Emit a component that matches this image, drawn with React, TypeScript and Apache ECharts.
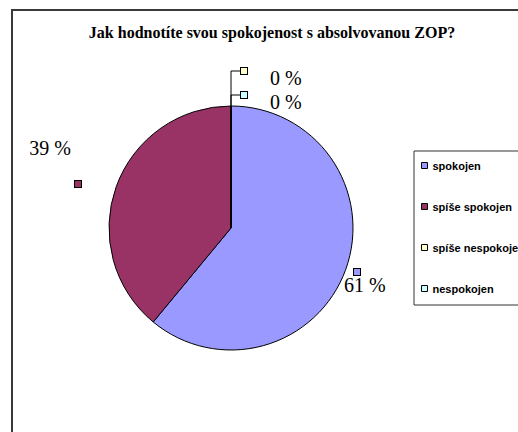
import React, { useEffect, useRef } from 'react';
import * as echarts from 'echarts';

const chartTitle = 'Jak hodnotíte svou spokojenost s absolvovanou ZOP?';
const categories = ['spokojen', 'spíše spokojen', 'spíše nespokoje', 'nespokojen'];
const values = [61, 39, 0, 0];
const colors = ['#9999FF', '#993366', '#FFFFCC', '#CCFFFF'];
// leader heights above the pie top for the zero-value labels
const leaderLengths = [0, 0, 35, 11];

const serif = '"Liberation Serif", "Times New Roman", serif';
const sans = '"Liberation Sans", Arial, sans-serif';

const CX = 231;
const CY = 228;
const R = 122;

export default function App() {
  const ref = useRef<HTMLDivElement>(null);

  useEffect(() => {
    const chart = echarts.init(ref.current!, null, { renderer: 'svg' });

    const rich: any = {
      tz: { fontFamily: serif, fontSize: 20, lineHeight: 8, padding: [14, 0, 0, 23], color: '#000' },
      tn: { fontFamily: serif, fontSize: 20, lineHeight: 20, color: '#000' },
      s1: { width: 10, height: 6 },
      s2: { width: 10, height: 6 },
      g: { width: 1, height: 29 },
    };
    colors.forEach((c, i) => {
      rich['m' + i] = { width: 6, height: 6, backgroundColor: c, borderColor: '#000', borderWidth: 1 };
      rich['b' + i] = { width: 6, height: 6, backgroundColor: c, borderColor: '#000', borderWidth: 1, verticalAlign: 'bottom' };
    });

    const data = values.map((v, i) => {
      const txt = `${v} %`;
      let formatter: string;
      if (v === 0) formatter = `{m${i}|}{tz|${txt}}`;
      else if (i === 0) formatter = `{s1|}{m${i}|}\n{tn|${txt}}`;
      else formatter = `{tn|${txt}}{s2|}\n{g|}{b${i}|}`;
      return {
        name: categories[i],
        value: v,
        itemStyle: { color: colors[i] },
        label: { formatter },
        labelLine: { show: v === 0 },
      };
    });

    chart.setOption({
      animation: false,
      backgroundColor: '#fff',
      title: {
        text: chartTitle,
        left: 272,
        top: 24,
        textAlign: 'center',
        padding: 0,
        textStyle: { fontFamily: serif, fontSize: 16, fontWeight: 'bold', color: '#000' },
      },
      legend: {
        orient: 'vertical',
        left: 414,
        top: 151,
        padding: [9, 40, 11, 7],
        itemGap: 30,
        itemWidth: 6,
        itemHeight: 6,
        icon: 'rect',
        itemStyle: { borderColor: '#000', borderWidth: 1 },
        textStyle: { fontFamily: sans, fontSize: 11, fontWeight: 'bold', color: '#000' },
        borderColor: '#333',
        borderWidth: 1,
        backgroundColor: '#fff',
        borderRadius: 0,
        selectedMode: false,
        data: categories,
      },
      graphic: [
        {
          type: 'rect',
          shape: { x: 12, y: 10, width: 700, height: 600 },
          style: { fill: 'none', stroke: '#3a3a3a', lineWidth: 2 },
          silent: true,
        },
      ],
      series: [
        {
          type: 'pie',
          center: [CX, CY],
          radius: R,
          startAngle: 90,
          clockwise: true,
          minShowLabelAngle: 0,
          avoidLabelOverlap: false,
          itemStyle: { borderColor: '#000', borderWidth: 1 },
          emphasis: { disabled: true },
          label: {
            show: true,
            position: 'outside',
            distanceToLabelLine: 0,
            fontFamily: serif,
            fontSize: 20,
            color: '#000',
            rich,
          },
          labelLine: { show: true, lineStyle: { color: '#000', width: 1 }, smooth: false },
          labelLayout: (p: any) => {
            const i = p.dataIndex;
            if (i === 0) return { x: 344, y: 269, align: 'left', verticalAlign: 'top' };
            if (i === 1) return { x: 81, y: 138, align: 'right', verticalAlign: 'top' };
            const top = CY - R;
            const ly = top - leaderLengths[i];
            const lx = CX + 10;
            return {
              x: lx,
              y: ly,
              align: 'left',
              verticalAlign: 'middle',
              labelLinePoints: [
                [CX, top],
                [CX, ly],
                [lx, ly],
              ],
            };
          },
          data,
        },
      ],
    });

    return () => chart.dispose();
  }, []);

  return (
    <div
      ref={ref}
      style={{ position: 'fixed', left: 0, top: 0, width: 518, height: 432, background: '#fff' }}
    />
  );
}
